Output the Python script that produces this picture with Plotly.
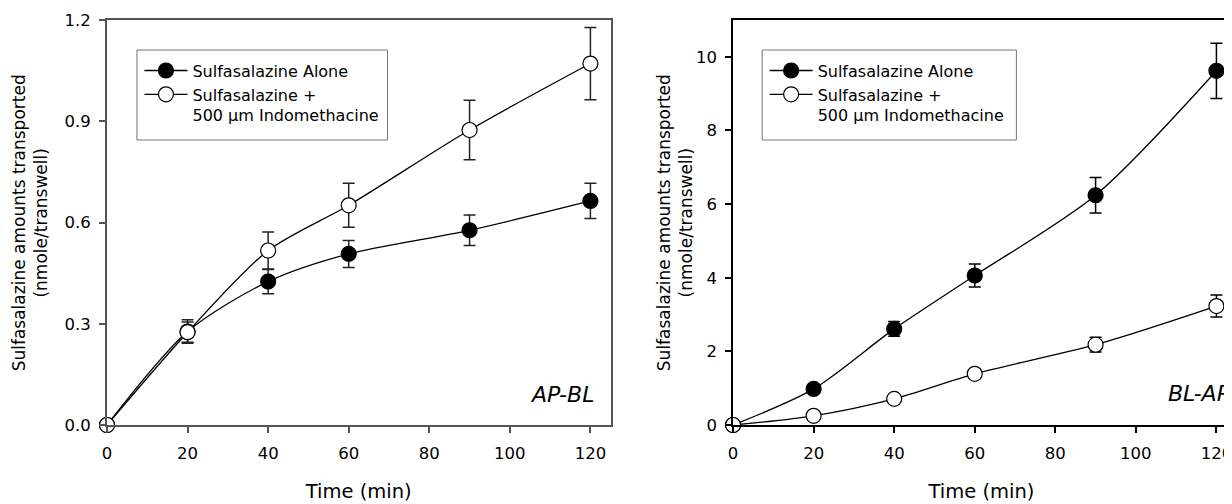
import plotly.graph_objects as go

# ---- data ----
time_min = [0, 20, 40, 60, 90, 120]

# AP-BL panel
ap_alone = [0.0, 0.277, 0.425, 0.507, 0.577, 0.664]
ap_alone_err = [0.0, 0.035, 0.036, 0.040, 0.045, 0.052]
ap_indo = [0.0, 0.275, 0.517, 0.651, 0.874, 1.071]
ap_indo_err = [0.0, 0.030, 0.055, 0.065, 0.088, 0.107]

# BL-AP panel
bl_alone = [0.0, 0.98, 2.61, 4.06, 6.24, 9.62]
bl_alone_err = [0.0, 0.08, 0.20, 0.31, 0.48, 0.75]
bl_indo = [0.0, 0.25, 0.71, 1.39, 2.18, 3.23]
bl_indo_err = [0.0, 0.04, 0.06, 0.08, 0.20, 0.30]

name_alone = "Sulfasalazine Alone"
name_indo = "Sulfasalazine +<br>500 μm Indomethacine"
x_ticks = [0, 20, 40, 60, 80, 100, 120]
ap_yticks = [0.0, 0.3, 0.6, 0.9, 1.2]
ap_ytick_text = ["0.0", "0.3", "0.6", "0.9", "1.2"]
bl_yticks = [0, 2, 4, 6, 8, 10]
y_title = "Sulfasalazine amounts transported<br>(nmole/transwell)"
x_title = "Time (min)"

FONT = "DejaVu Sans"
GRAY = "#555555"

fig = go.Figure()


def add_pair(xa, ya, alone, alone_err, indo, indo_err, legend, errcol):
    fig.add_trace(go.Scatter(
        x=time_min, y=alone, name=name_alone, mode="lines+markers",
        line=dict(color="black", width=1.3, shape="spline", smoothing=0.8),
        marker=dict(symbol="circle", size=15, color="black",
                    line=dict(color="black", width=1.2)),
        error_y=dict(type="data", array=alone_err, visible=True,
                     color=errcol, thickness=1.5, width=6),
        xaxis=xa, yaxis=ya, legend=legend, cliponaxis=False,
    ))
    fig.add_trace(go.Scatter(
        x=time_min, y=indo, name=name_indo, mode="lines+markers",
        line=dict(color="black", width=1.3, shape="spline", smoothing=0.8),
        marker=dict(symbol="circle", size=15, color="white",
                    line=dict(color="black", width=1.2)),
        error_y=dict(type="data", array=indo_err, visible=True,
                     color=errcol, thickness=1.5, width=6),
        xaxis=xa, yaxis=ya, legend=legend, cliponaxis=False,
    ))


add_pair("x", "y", ap_alone, ap_alone_err, ap_indo, ap_indo_err, "legend", "#222222")
add_pair("x2", "y2", bl_alone, bl_alone_err, bl_indo, bl_indo_err, "legend2", "black")

tickfont = dict(family=FONT, size=16.5, color="black")
xtitle_font = dict(family=FONT, size=19.5, color="black")
ytitle_font = dict(family=FONT, size=17, color="black")

common_x = dict(tickmode="array", tickvals=x_ticks, ticks="outside", ticklen=6,
                showgrid=False, zeroline=False, showline=True, mirror=True,
                tickfont=tickfont, ticklabelstandoff=6, ticklabeloverflow="allow",
                title=dict(text=x_title, font=xtitle_font, standoff=23))

legend_common = dict(xanchor="left", yanchor="top", bgcolor="rgba(0,0,0,0)",
                     borderwidth=0, font=dict(family=FONT, size=16, color="black"),
                     valign="top", itemwidth=43)

box_line = dict(color="#777777", width=1)

fig.update_layout(
    width=1224, height=496,
    margin=dict(l=99, r=0, t=12, b=79),
    paper_bgcolor="white", plot_bgcolor="white",
    showlegend=True,
    xaxis=dict(domain=[0, 0.4484], range=[0, 125], linecolor=GRAY, linewidth=2,
               tickcolor=GRAY, tickwidth=1.5, **common_x),
    yaxis=dict(domain=[0, 1], range=[0, 1.2], tickmode="array", tickvals=ap_yticks,
               ticktext=ap_ytick_text, ticks="outside", ticklen=6,
               showgrid=False, zeroline=False, showline=True, mirror=True,
               linecolor=GRAY, linewidth=2, tickcolor=GRAY, tickwidth=1.5,
               tickfont=tickfont, ticklabelstandoff=5),
    xaxis2=dict(domain=[0.5575, 1], range=[0, 123.37], anchor="y2",
                linecolor="black", linewidth=1.5, tickcolor="black", tickwidth=1.5,
                **common_x),
    yaxis2=dict(domain=[0, 1], range=[0, 11], anchor="x2", tickmode="array",
                tickvals=bl_yticks, ticks="outside", ticklen=6,
                showgrid=False, zeroline=False, showline=True, mirror=False,
                linecolor="black", linewidth=1.5, tickcolor="black", tickwidth=1.5,
                tickfont=tickfont, ticklabelstandoff=5),
    legend=dict(x=0.0289, y=0.917, **legend_common),
    legend2=dict(x=0.5856, y=0.917, **legend_common),
    shapes=[
        dict(type="rect", xref="paper", yref="paper", x0=0.02667, x1=0.2498,
             y0=0.7037, y1=0.9259, line=box_line, fillcolor="rgba(0,0,0,0)", layer="above"),
        dict(type="rect", xref="paper", yref="paper", x0=0.5834, x1=0.8098,
             y0=0.7037, y1=0.9259, line=box_line, fillcolor="rgba(0,0,0,0)", layer="above"),
    ],
    annotations=[
        dict(text=y_title, x=-0.0687, y=0.5, xref="paper", yref="paper",
             xanchor="center", yanchor="middle", textangle=-90, showarrow=False,
             font=ytitle_font),
        dict(text=y_title, x=0.5055, y=0.5, xref="paper", yref="paper",
             xanchor="center", yanchor="middle", textangle=-90, showarrow=False,
             font=ytitle_font),
        dict(text="<i>AP-BL</i>", x=121.3, y=0.09, xref="x", yref="y",
             xanchor="right", yanchor="middle", showarrow=False,
             font=dict(family=FONT, size=22, color="black")),
        dict(text="<i>BL-AP</i>", x=107.5, y=0.85, xref="x2", yref="y2",
             xanchor="left", yanchor="middle", showarrow=False,
             font=dict(family=FONT, size=22, color="black")),
    ],
)

fig.write_html("out.html")
